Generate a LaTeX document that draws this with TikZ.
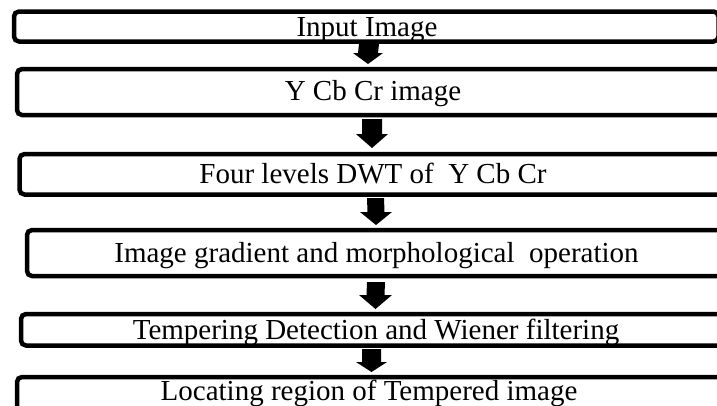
\documentclass[tikz,border=0pt]{standalone}
\usepackage{fontspec}
\setmainfont{Liberation Serif}
\usetikzlibrary{calc}
\tikzset{
  stepbox/.style={draw=black, line width=4.5pt, rounded corners=5pt, inner sep=0pt, outer sep=0pt, anchor=north west},
  steptext/.style={anchor=base, inner sep=0pt, font=\fontsize{29}{31}\selectfont},
  arrowfill/.style={fill=black}
}
\newcommand\blkarr[5]{%
  \fill[arrowfill] ($(#1)+(-#3,0)$) -- ($(#1)+(#3,0)$) -- ($(#2)+(#3,-#5)$) -- ($(#2)+(#4,-#5)$) -- (#2) -- ($(#2)+(-#4,-#5)$) -- ($(#2)+(-#3,-#5)$) -- cycle;}
\begin{document}
\begin{tikzpicture}[x=1pt,y=-1pt]
\useasboundingbox (0,0) rectangle (717,405);
\clip (0,0) rectangle (717,405);
% boxes
\node[stepbox, minimum width=704.5pt, minimum height=30pt] (b1) at (14,11.5) {};
\node[stepbox, minimum width=720pt, minimum height=46pt] (b2) at (17,69) {};
\node[stepbox, minimum width=720pt, minimum height=40.5pt] (b3) at (19.5,154) {};
\node[stepbox, minimum width=720pt, minimum height=46pt] (b4) at (27,230) {};
\node[stepbox, minimum width=720pt, minimum height=31.5pt] (b5) at (21,314) {};
\node[stepbox, minimum width=720pt, minimum height=40pt] (b6) at (17,377) {};
% texts
\node[steptext] (t1) at (367,36) {Input Image};
\node[steptext] (t2) at (373,100) {Y Cb Cr image};
\node[steptext] (t3) at (373,183) {Four levels DWT of~ Y Cb Cr};
\node[steptext] (t4) at (376.5,262) {Image gradient and morphological~ operation};
\node[steptext] (t5) at (376,339) {Tempering Detection and Wiener filtering};
\node[steptext] (t6) at (369,400) {Locating region of Tempered image};
% arrow endpoints
\coordinate (a1s) at (369,44);   \coordinate (a1e) at (368,64);
\coordinate (a2s) at (372,119);  \coordinate (a2e) at (372,148);
\coordinate (a3s) at (375.5,198);\coordinate (a3e) at (376,225);
\coordinate (a4s) at (376,282);  \coordinate (a4e) at (375.5,309);
\coordinate (a5s) at (371.5,349);\coordinate (a5e) at (371.5,372);
\blkarr{a1s}{a1e}{10}{15}{11}
\blkarr{a2s}{a2e}{10}{16}{14}
\blkarr{a3s}{a3e}{8.5}{16}{13}
\blkarr{a4s}{a4e}{9}{16.5}{14}
\blkarr{a5s}{a5e}{9.5}{15.5}{10}
\end{tikzpicture}
\end{document}
